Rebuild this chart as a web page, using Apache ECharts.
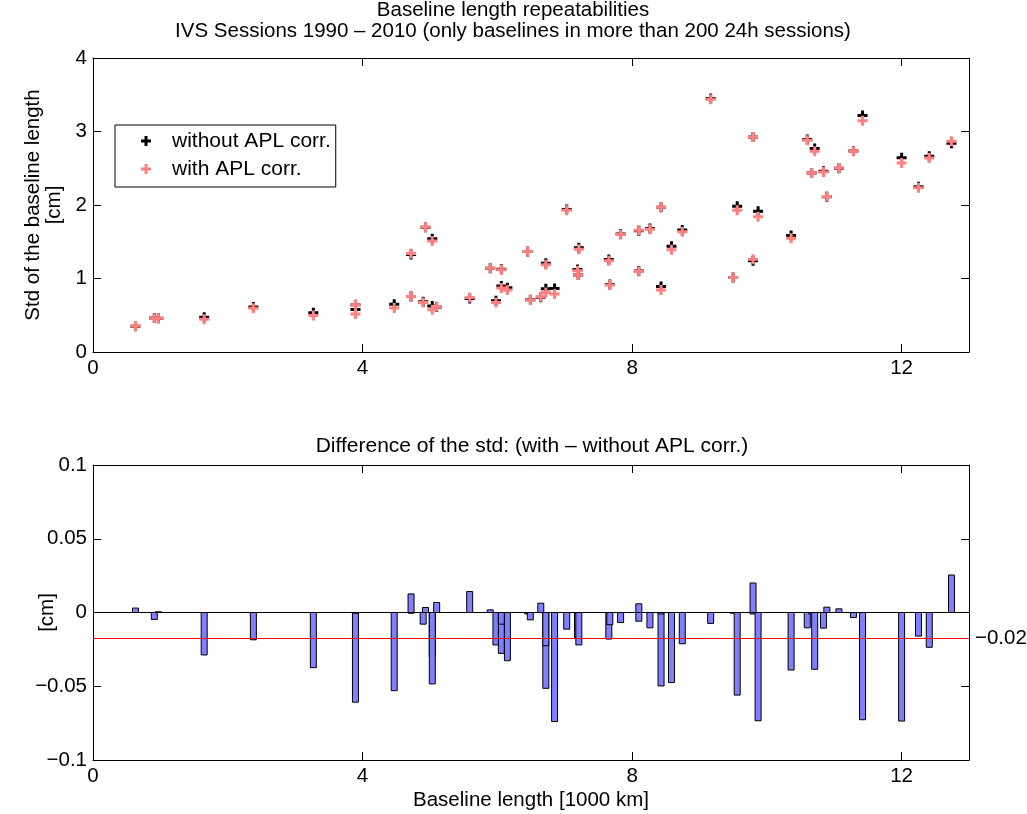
<!DOCTYPE html>
<html>
<head>
<meta charset="utf-8">
<script src="https://cdn.jsdelivr.net/npm/echarts@6/dist/echarts.min.js"></script>
<style>
html,body{margin:0;padding:0;background:#fff;}
#c{width:1027px;height:814px;}
</style>
</head>
<body>
<div id="c"></div>
<script>
// Baseline lengths [1000 km]
const lengths = [0.63,0.91,0.97,1.65,2.38,3.27,3.895,3.895,4.47,4.72,4.72,4.90,4.935,5.035,5.035,5.10,5.59,5.895,5.98,6.06,6.06,6.15,6.45,6.49,6.645,6.72,6.72,6.85,7.03,7.19,7.20,7.21,7.655,7.67,7.83,8.10,8.10,8.265,8.43,8.43,8.585,8.745,9.166,9.50,9.56,9.795,9.795,9.87,10.36,10.60,10.665,10.71,10.84,10.89,11.07,11.285,11.42,12.0,12.25,12.41,12.74];
// Std without APL correction [cm]
const stdWithout = [0.352,0.4627,0.4575,0.4738,0.6125,0.5324,0.5778,0.6445,0.650,1.3264,0.7565,0.6829,1.6966,1.54,0.6244,0.6132,0.7288,1.1382,0.697,0.8977,1.1259,0.8757,1.367,0.712,0.7457,0.8614,1.2085,0.8639,1.9383,1.121,1.047,1.42,1.258,0.9183,1.6068,1.6501,1.1009,1.6804,0.8928,1.971,1.4375,1.6582,3.4474,1.0145,1.983,1.242,2.926,1.9134,1.586,2.8904,2.437,2.7685,2.4606,2.1124,2.5015,2.7334,3.2187,2.6436,2.249,2.6636,2.8406];
// Std with APL correction [cm]
const stdWith = [0.355,0.458,0.458,0.445,0.594,0.495,0.517,0.644,0.597,1.339,0.756,0.675,1.70,1.51,0.576,0.62,0.743,1.14,0.675,0.87,1.118,0.843,1.366,0.707,0.752,0.81,1.186,0.79,1.927,1.104,1.046,1.398,1.24,0.91,1.60,1.656,1.095,1.67,0.843,1.97,1.39,1.637,3.44,1.014,1.927,1.262,2.925,1.84,1.547,2.88,2.436,2.73,2.45,2.116,2.504,2.73,3.146,2.57,2.233,2.64,2.866];

const xTicks = [0, 4, 8, 12];
const yTopTicks = [0, 1, 2, 3, 4];
const yBotTicks = [-0.1, -0.05, 0, 0.05, 0.1];

const diff = stdWith.map((v, i) => +(v - stdWithout[i]).toFixed(4));
const meanDiff = diff.reduce((a, b) => a + b, 0) / diff.length;

const FONT = "'Liberation Sans', Arial, Helvetica, sans-serif";
const FS = 20.5;
const plusPath = 'path://M3.5,0h3v3.5h3.5v3h-3.5v3.5h-3v-3.5h-3.5v-3h3.5z';
const minus = v => (v < 0 ? '\u2212' + String(Math.abs(v)) : String(v));

function xAx(grid, pos, labels, extra) {
  return Object.assign({
    type: 'value', gridIndex: grid, position: pos, min: 0, max: 13,
    axisLine: { show: true, onZero: false, lineStyle: { color: '#000', width: 1 } },
    axisTick: { show: true, inside: true, length: 8, customValues: xTicks, lineStyle: { color: '#000' } },
    axisLabel: labels ? { show: true, customValues: xTicks, margin: 6, fontSize: FS, color: '#000', fontFamily: FONT } : { show: false },
    splitLine: { show: false }
  }, extra || {});
}
function yAx(grid, pos, labels, min, max, interval, extra) {
  return Object.assign({
    type: 'value', gridIndex: grid, position: pos, min: min, max: max, interval: interval,
    axisLine: { show: true, onZero: false, lineStyle: { color: '#000', width: 1 } },
    axisTick: { show: true, inside: true, length: 8, lineStyle: { color: '#000' } },
    axisLabel: labels ? { show: true, margin: 6, fontSize: FS, color: '#000', fontFamily: FONT, formatter: minus } : { show: false },
    splitLine: { show: false }
  }, extra || {});
}

const chart = echarts.init(document.getElementById('c'), null, { renderer: 'canvas' });
chart.setOption({
  animation: false,
  backgroundColor: '#fff',
  textStyle: { fontFamily: FONT },
  title: [
    { text: 'Baseline length repeatabilities\nIVS Sessions 1990 \u2013 2010 (only baselines in more than 200 24h sessions)',
      left: 513, textAlign: 'center', top: 0, padding: 0,
      textStyle: { fontSize: FS, fontWeight: 'normal', color: '#000', lineHeight: 21, fontFamily: FONT } },
    { text: 'Difference of the std: (with \u2013 without APL corr.)',
      left: 532, textAlign: 'center', top: 436, padding: 0,
      textStyle: { fontSize: 21, fontWeight: 'normal', color: '#000', fontFamily: FONT } }
  ],
  legend: {
    data: ['without APL corr.', 'with APL corr.'],
    orient: 'vertical', left: 115, top: 125,
    backgroundColor: '#fff', borderColor: '#000', borderWidth: 1, borderRadius: 0,
    padding: [5, 5, 7, 26], itemGap: 6, itemWidth: 10, itemHeight: 10,
    icon: plusPath,
    textStyle: { fontSize: 21, color: '#000', lineHeight: 22, fontFamily: FONT, padding: [0, 0, 0, 16] }
  },
  grid: [
    { left: 93, top: 58, width: 876, height: 294 },
    { left: 93, top: 465, width: 876, height: 295 }
  ],
  xAxis: [
    xAx(0, 'bottom', true),
    xAx(0, 'top', false),
    xAx(1, 'bottom', true, { name: 'Baseline length [1000 km]', nameLocation: 'middle', nameGap: 30, nameMoveOverlap: false,
      nameTextStyle: { fontSize: FS, color: '#000', fontFamily: FONT } }),
    xAx(1, 'top', false)
  ],
  yAxis: [
    yAx(0, 'left', true, 0, 4, 1, { name: 'Std of the baseline length\n[cm]', nameLocation: 'middle', nameGap: 28, nameRotate: 90, nameMoveOverlap: false,
      nameTextStyle: { fontSize: FS, color: '#000', lineHeight: 21, fontFamily: FONT } }),
    yAx(0, 'right', false, 0, 4, 1),
    yAx(1, 'left', true, -0.1, 0.1, 0.05, { name: '[cm]', nameLocation: 'middle', nameGap: 35, nameRotate: 90, nameMoveOverlap: false,
      nameTextStyle: { fontSize: FS, color: '#000', fontFamily: FONT } }),
    yAx(1, 'right', false, -0.1, 0.1, 0.05)
  ],
  series: [
    { name: 'without APL corr.', type: 'scatter', xAxisIndex: 0, yAxisIndex: 0,
      symbol: plusPath, symbolSize: 10, itemStyle: { color: '#000', opacity: 1 },
      data: lengths.map((x, i) => [x, stdWithout[i]]), z: 2 },
    { name: 'with APL corr.', type: 'scatter', xAxisIndex: 0, yAxisIndex: 0,
      symbol: plusPath, symbolSize: 10, itemStyle: { color: '#ff8080', opacity: 1 },
      data: lengths.map((x, i) => [x, stdWith[i]]), z: 3 },
    { name: 'diff', type: 'custom', xAxisIndex: 2, yAxisIndex: 2, z: 2,
      encode: { x: 0, y: 1 },
      data: lengths.map((x, i) => [x, diff[i]]),
      renderItem: function (params, api) {
        const x = api.value(0), y = api.value(1);
        const p0 = api.coord([x, 0]);
        const p1 = api.coord([x, y]);
        const w = 6;
        return {
          type: 'rect',
          shape: { x: p0[0] - w / 2, y: Math.min(p0[1], p1[1]), width: w, height: Math.abs(p1[1] - p0[1]) },
          style: { fill: '#8080ff', stroke: '#000', lineWidth: 1 }
        };
      }
    },
    { name: 'zero', type: 'line', xAxisIndex: 2, yAxisIndex: 2, z: 4, symbol: 'none', showSymbol: false, silent: true,
      lineStyle: { color: '#000', width: 1 }, data: [[0, 0], [13, 0]] },
    { name: 'mean', type: 'line', xAxisIndex: 2, yAxisIndex: 2, z: 5, symbol: 'none', showSymbol: false, silent: true,
      lineStyle: { color: '#ff0000', width: 1 }, data: [[0, meanDiff], [13, meanDiff]],
      endLabel: { show: true, distance: 6, formatter: minus(+meanDiff.toFixed(2)), fontSize: FS, color: '#000', fontFamily: FONT } }
  ]
});
</script>
</body>
</html>
